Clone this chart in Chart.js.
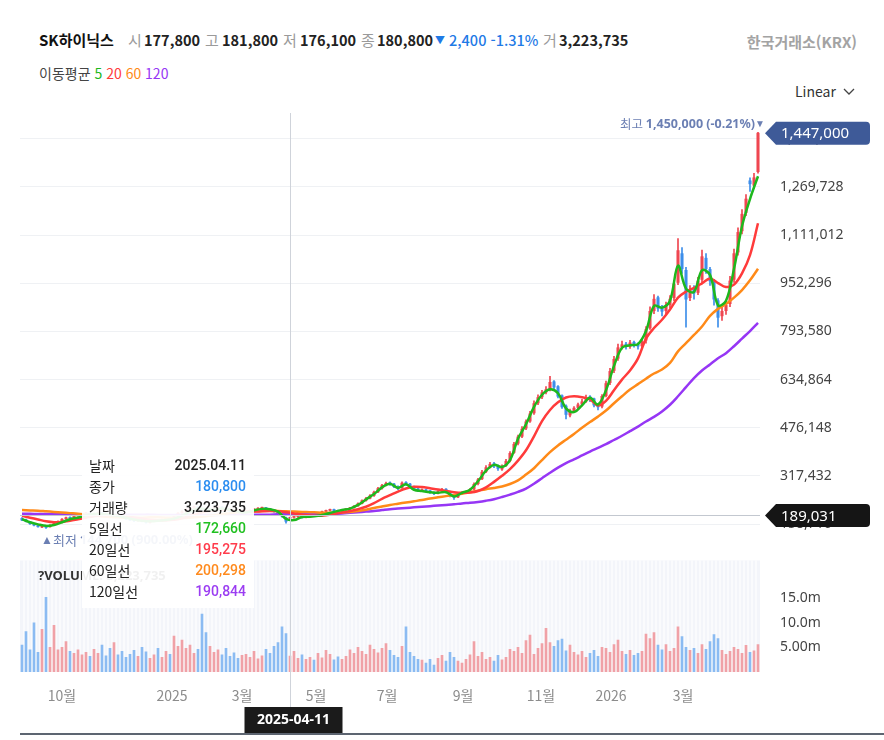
<!DOCTYPE html>
<html lang="ko">
<head>
<meta charset="utf-8">
<title>SK하이닉스</title>
<script src="https://cdn.jsdelivr.net/npm/chart.js@4.4.1/dist/chart.umd.min.js"></script>
<style>
  html, body { margin: 0; padding: 0; background: #fff; }
  body { width: 884px; height: 740px; position: relative; overflow: hidden;
         font-family: "Noto Sans CJK KR", "Noto Sans", sans-serif; color: #222; }
  .t { position: absolute; white-space: nowrap; font-size: 15px; line-height: 20px; }
  .g { color: #9a9a9a; }
  .b { font-weight: 700; color: #222; font-size: 14.5px; }
  .blue { color: #1f7ae6; }
  canvas { position: absolute; left: 0; }
  #price { top: 100px; }
  #vol { top: 552px; }
  #tip { position: absolute; left: 82px; top: 450px; width: 172px; height: 158px; z-index: 5;
         background: rgba(255,255,255,0.93); padding-top: 5px; box-sizing: border-box; }
  #tip div { display: flex; justify-content: space-between; padding: 0 8px 0 7px;
             height: 21px; line-height: 21px; font-size: 14px; color: #222; }
  #tip b { font-family: Roboto, "Noto Sans CJK KR", sans-serif; font-weight: 500; }
</style>
</head>
<body>

<div class="t b" style="left:39px;top:30px;color:#111;font-size:15px">SK하이닉스</div>
<div class="t g" style="left:128px;top:30px">시</div><div class="t b" style="left:144px;top:30px">177,800</div>
<div class="t g" style="left:205px;top:30px">고</div><div class="t b" style="left:222px;top:30px">181,800</div>
<div class="t g" style="left:283px;top:30px">저</div><div class="t b" style="left:300px;top:30px">176,100</div>
<div class="t g" style="left:361px;top:30px">종</div><div class="t b" style="left:377px;top:30px">180,800</div>
<div class="t blue" style="left:435px;top:30px;font-size:10px">▼</div>
<div class="t blue" style="left:449px;top:30px;font-weight:500;font-size:14.5px">2,400 -1.31%</div>
<div class="t g" style="left:543px;top:30px">거</div><div class="t b" style="left:559px;top:30px">3,223,735</div>
<div class="t" style="right:27px;top:32px;color:#a3a3a3;font-weight:700;font-size:15px">한국거래소(KRX)</div>

<div class="t" style="left:39px;top:63px;font-size:14px;color:#444">이동평균
  <span style="color:#1db81d">5</span> <span style="color:#ff3b3b">20</span>
  <span style="color:#ff8a18">60</span> <span style="color:#9636f5">120</span></div>

<div class="t" style="left:795px;top:81px;font-size:14px;color:#333">Linear</div>
<svg style="position:absolute;left:843px;top:88px" width="12" height="8"><polyline points="1,1 6,6 11,1" fill="none" stroke="#444" stroke-width="1.3"/></svg>

<canvas id="price" width="884" height="460"></canvas>
<canvas id="vol" width="884" height="188"></canvas>

<div id="tip">
  <div><span>날짜</span><b>2025.04.11</b></div>
  <div><span>종가</span><b style="color:#2b8df0">180,800</b></div>
  <div><span>거래량</span><b>3,223,735</b></div>
  <div><span>5일선</span><b style="color:#20c020">172,660</b></div>
  <div><span>20일선</span><b style="color:#ff3b4b">195,275</b></div>
  <div><span>60일선</span><b style="color:#ff8a1d">200,298</b></div>
  <div><span>120일선</span><b style="color:#9b3df2">190,844</b></div>
</div>

<script>
// prices in thousand won, one candle per ~2 trading days (Aug 2024 .. 2026)
const opens = [
  178,173,167,158,154,149,153,150,156,163,170,176,181,179,186,
  189,193,196,190,194,197,191,189,184,190,186,181,177,
  173,170,174,169,164,168,173,170,175,179,
  176,186,196,201,207,213,216,211,206,
  202,209,213,216,211,206,201,197,194,
  198,201,205,208,211,213,210,206,201,193,180,
  177.8,
  181,183,186,181,187,191,
  189,196,201,204,207,204,201,
  206,209,213,219,227,237,244,253,265,278,288,
  295,291,283,278,296,291,282,275,269,
  272,269,264,260,267,274,266,253,248,259,
  263,265,274,292,308,332,347,358,351,340,352,368,395,425,448,475,498,525,558,578,
  594,604,628,612,582,548,518,532,543,554,564,578,572,553,547,
  582,625,665,705,742,752,745,758,752,746,
  765,805,862,905,872,862,882,905,955,1050,995,905,935,922,965,1035,998,955,895,845,862,885,965,1055,1125,1185,1290,1275,1320
];
const highs = [
  180,175,168,160,156,154,155,157,164,170,177,182,183,187,190,
  194,198,197,195,199,198,193,190,192,191,187,182,178,
  175,176,175,170,170,174,174,176,180,180,
  187,197,203,210,215,218,217,212,208,
  210,215,218,217,212,207,202,198,200,
  202,206,210,213,215,214,211,207,202,194,182,
  181.8,
  184,187,186,188,192,192,
  197,202,205,208,208,205,207,
  210,214,220,229,239,247,256,268,280,290,297,
  298,293,285,298,299,293,284,278,275,
  274,270,265,269,277,276,268,255,261,266,
  268,276,295,310,336,352,362,362,354,354,372,398,428,452,480,502,530,565,585,600,
  612,646,632,615,585,552,538,546,558,570,584,582,574,556,586,
  630,672,712,752,762,758,764,762,756,768,
  810,875,915,910,880,890,912,962,1100,1070,1005,945,945,972,1062,1050,1005,965,902,875,895,975,1065,1135,1195,1245,1300,1315,1450
];
const lows = [
  170,166,158,153,149,147,144.7,149,154,161,168,174,176,178,184,
  187,190,188,188,192,188,185,182,182,184,178,174,170,
  167,168,166,162,162,166,168,168,173,172,
  175,184,194,199,205,210,208,203,199,
  200,206,210,208,203,198,194,191,192,
  196,199,203,206,208,207,203,198,190,182,162,
  176.1,
  178,181,178,179,185,186,
  187,194,199,202,201,198,199,
  204,207,211,217,225,234,242,250,262,274,285,
  286,279,272,276,287,279,271,266,266,
  265,260,256,258,264,265,248,240,246,256,
  259,262,272,288,305,328,344,345,336,336,349,364,392,420,444,470,494,520,552,572,
  588,598,602,575,540,505,512,526,538,548,560,562,545,535,542,
  578,618,658,698,735,735,738,742,735,740,
  755,800,852,860,845,852,872,895,948,985,808,895,900,915,955,985,945,880,808,830,850,875,955,1045,1115,1175,1255,1265,1315
];
const closes = [
  172,168,160,155,150,152,148,155,162,168,175,180,178,185,188,
  192,195,190,193,196,190,188,185,190,186,180,176,172,
  170,174,168,165,168,172,170,174,178,175,
  185,195,200,208,212,215,210,205,202,
  208,212,215,210,205,200,196,194,198,
  200,204,208,210,212,209,205,200,192,185,168,
  180.8,
  182,185,180,186,190,188,
  195,200,203,206,203,200,205,
  208,212,218,226,236,243,252,264,276,286,293,
  290,282,276,294,290,281,274,270,271,
  268,263,260,266,273,268,252,247,258,262,
  264,272,290,305,330,345,356,350,342,350,366,392,422,446,472,496,522,556,576,592,
  602,626,610,580,545,520,530,541,552,562,576,570,551,545,580,
  622,662,702,740,750,744,756,750,745,760,
  800,860,900,870,860,880,900,950,1060,1000,900,930,920,960,1040,1000,960,900,840,860,880,960,1050,1120,1180,1230,1280,1300,1447
];
// volume in millions of shares
const volumes = [
  5.5,8.2,4.5,10.0,4.0,8.7,15.2,5.0,9.5,4.5,5.0,6.2,4.2,3.8,4.5,
  3.5,4.0,3.2,4.6,3.8,5.5,3.3,4.8,6.0,3.5,4.2,3.0,3.6,
  4.4,3.2,5.0,4.1,2.8,3.5,4.8,3.0,4.2,3.6,
  7.3,5.2,6.5,4.8,5.5,3.8,4.6,11.8,8.0,
  5.2,4.0,4.5,3.5,4.8,3.2,3.9,2.8,3.4,
  3.6,3.0,4.2,2.7,3.3,4.6,3.8,5.2,6.0,9.2,7.8,
  3.22,
  4.2,2.8,3.5,2.6,3.0,2.4,
  3.8,2.9,4.4,3.6,2.5,3.1,2.6,
  3.2,4.5,3.8,5.0,4.2,3.6,5.5,4.6,3.9,4.8,5.8,
  4.4,3.4,3.0,5.2,9.2,4.0,3.2,2.6,2.4,
  1.8,2.6,1.4,2.8,3.4,2.2,4.0,3.0,2.2,1.8,
  2.6,3.5,6.2,3.2,4.0,2.6,3.0,2.2,3.4,2.5,3.0,4.6,4.2,5.0,3.8,6.4,7.5,3.6,4.8,5.8,
  8.9,6.0,5.2,6.4,6.7,4.3,5.5,4.0,3.5,4.2,3.0,3.8,4.4,3.2,5.0,
  4.8,4.0,5.6,6.5,4.2,3.6,4.4,3.4,3.8,4.2,
  7.7,6.8,8.0,5.5,4.5,5.6,4.2,4.8,9.2,7.2,5.0,4.4,4.8,3.8,5.6,4.6,6.2,7.6,6.8,4.4,3.6,4.2,5.0,4.6,3.8,5.4,4.0,4.3,5.6
];

// moving averages, read every 2nd candle (thousand won)
const maStep = 2;
const ma5 = [
  175,165,158,153,156,165,175,180,188,192,
  192,189,186,180,174,170,168,170,172,177,
  187,200,210,208,206,210,206,200,197,204,
  209,208,200,176,172,182,183,186,192,199,
  205,210,222,240,258,280,292,278,290,272,
  268,264,262,264,250,262,272,300,335,354,
  347,370,440,488,545,585,603,590,540,528,
  550,575,553,600,680,740,748,752,795,878,
  872,895,1010,935,924,995,980,880,895,1000,
  1140,1230,1305
];
const ma20 = [
  186,180,174,168,165,166,170,175,180,185,
  188,189,188,185,181,177,173,171,171,173,
  178,186,194,200,204,206,206,204,201,200,
  201,202,201,198,194,190,187,186,188,192,
  197,202,208,216,228,242,254,266,276,282,
  281,277,273,268,264,262,263,268,280,298,
  318,340,368,402,448,498,535,560,576,580,
  577,570,550,565,600,635,665,705,770,805,
  832,866,905,925,937,952,968,953,940,948,
  985,1045,1150
];
const ma60 = [
  205,204,203,201,199,197,195,193,190,187,
  184,182,181,180,180,180,181,181,180,179,
  179,180,182,185,188,192,195,198,200,201,
  202,203,202,201,200,199,198,197,196,196,
  197,199,202,206,212,217,222,226,230,234,
  238,243,247,251,255,259,264,269,274,278,
  283,291,303,322,343,370,396,418,437,456,
  476,495,513,533,557,580,602,620,638,655,
  668,690,728,755,782,810,845,868,884,905,
  930,962,1000
];
const ma120 = [
  193,193,192,192,192,191,191,191,191,190,
  190,190,190,190,190,190,190,189,189,189,
  189,189,189,189,189,189,190,190,190,190,
  190,190,191,191,191,191,191,191,192,193,
  194,196,198,200,202,205,208,210,212,214,
  216,218,220,222,224,227,229,232,236,241,
  248,256,265,276,292,310,328,345,360,372,
  385,398,410,422,436,450,465,480,497,512,
  530,552,580,610,640,665,685,705,722,745,
  770,795,822
];

const priceTicks = [158716, 317432, 476148, 634864, 793580, 952296, 1111012, 1269728, 1428444];
const volTicks = [5e6, 10e6, 15e6];
const volTickLabels = ['5.00m', '10.0m', '15.0m'];
const monthPos = [10, 37.5, 55, 73.5, 91.25, 110.25, 129.75, 147.25, 165.25];
const monthLabels = ['10월', '2025', '3월', '5월', '7월', '9월', '11월', '2026', '3월'];

const crossIndex = 67, crossPrice = 189031, crossDate = '2025-04-11';
const highNote = { idx: 184, price: 1450000, text: '1,450,000 (-0.21%)' };
const lowNote = { idx: 6, price: 144700, text: '144,700 (900.00%)' };
const volumeNote = '?VOLUME: 3,223,735';

const K = 1000;
const UP = '#ef4650', DOWN = '#3d8eea';
const UP_V = 'rgba(238,110,116,0.62)', DOWN_V = 'rgba(74,152,238,0.62)';
const NOTE = '#6b7fb3';
const last = closes.length - 1;
const xMin = -0.5, xMax = last + 0.5;

const isUp = i => closes[i] >= opens[i];

function maLine(arr, color, order) {
  return {
    type: 'line',
    data: arr.map((v, j) => ({ x: j * maStep, y: v * K })),
    borderColor: color, borderWidth: 2.5, pointRadius: 0, tension: 0.35,
    borderJoinStyle: 'round', order
  };
}

function badge(ctx, tipX, yc, text, color) {
  const h = 23, x0 = tipX + 11, x1 = 870, r = 4;
  ctx.fillStyle = color;
  ctx.beginPath();
  ctx.moveTo(tipX, yc);
  ctx.lineTo(x0, yc - h / 2);
  ctx.lineTo(x1 - r, yc - h / 2);
  ctx.arcTo(x1, yc - h / 2, x1, yc - h / 2 + r, r);
  ctx.lineTo(x1, yc + h / 2 - r);
  ctx.arcTo(x1, yc + h / 2, x1 - r, yc + h / 2, r);
  ctx.lineTo(x0, yc + h / 2);
  ctx.closePath();
  ctx.fill();
  ctx.fillStyle = '#fff';
  ctx.font = '15px "Noto Sans", sans-serif';
  ctx.textAlign = 'left';
  ctx.textBaseline = 'middle';
  ctx.fillText(text, 781, yc + 1);
}

const priceOverlay = {
  id: 'priceOverlay',
  afterDraw(chart) {
    const { ctx, chartArea: a, scales: { x, y } } = chart;
    const cx = Math.round(x.getPixelForValue(crossIndex)) + 0.5;
    const cy = Math.round(y.getPixelForValue(crossPrice)) + 0.5;
    ctx.save();
    ctx.strokeStyle = '#cfd3da';
    ctx.lineWidth = 1;
    ctx.beginPath(); ctx.moveTo(cx, a.top); ctx.lineTo(cx, chart.height); ctx.stroke();
    ctx.strokeStyle = '#c3c8d0';
    ctx.beginPath(); ctx.moveTo(a.left, cy); ctx.lineTo(a.right, cy); ctx.stroke();

    badge(ctx, a.right + 5, y.getPixelForValue(closes[last] * K), (closes[last] * K).toLocaleString('en-US'), '#3e5a98');
    badge(ctx, a.right + 5, cy, crossPrice.toLocaleString('en-US'), '#151515');

    // highest price note
    ctx.fillStyle = NOTE;
    ctx.textBaseline = 'middle';
    const hx = x.getPixelForValue(highNote.idx), hy = y.getPixelForValue(highNote.price) - 8;
    ctx.font = '10px "Noto Sans", sans-serif';
    ctx.textAlign = 'center';
    ctx.fillText('▼', hx + 2, hy);
    ctx.font = 'bold 12.5px "Noto Sans", sans-serif';
    ctx.textAlign = 'right';
    ctx.fillText(highNote.text, hx - 3, hy);
    const w = ctx.measureText(highNote.text).width;
    ctx.font = '12.5px "Noto Sans CJK KR", sans-serif';
    ctx.fillText('최고 ', hx - 3 - w, hy);

    // lowest price note
    const lx = x.getPixelForValue(lowNote.idx), ly = y.getPixelForValue(lowNote.price) + 12;
    ctx.font = '12px "Noto Sans", sans-serif';
    ctx.textAlign = 'center';
    ctx.fillText('▲', lx + 1, ly);
    ctx.textAlign = 'left';
    ctx.font = '13px "Noto Sans CJK KR", sans-serif';
    ctx.fillText('최저', lx + 7, ly);
    const w2 = ctx.measureText('최저 ').width;
    ctx.font = 'bold 13px "Noto Sans", sans-serif';
    ctx.fillText(lowNote.text, lx + 7 + w2, ly);
    ctx.restore();
  }
};

const volOverlay = {
  id: 'volOverlay',
  beforeDatasetsDraw(chart) {
    const { ctx, chartArea: a, scales: { x } } = chart;
    ctx.save();
    ctx.fillStyle = '#f3f5fa';
    ctx.fillRect(a.left, a.top, a.right - a.left, a.bottom - a.top);
    ctx.strokeStyle = '#ffffff';
    ctx.lineWidth = 1.2;
    for (let i = 0; i < last; i++) {
      const px = x.getPixelForValue(i + 0.5);
      ctx.beginPath(); ctx.moveTo(px, a.top); ctx.lineTo(px, a.bottom); ctx.stroke();
    }
    ctx.restore();
  },
  afterDraw(chart) {
    const { ctx, chartArea: a, scales: { x } } = chart;
    const cx = Math.round(x.getPixelForValue(crossIndex)) + 0.5;
    const base = a.bottom;           // page y 672
    ctx.save();
    ctx.fillStyle = '#333';
    ctx.font = 'bold 13px "Noto Sans", sans-serif';
    ctx.textBaseline = 'middle';
    ctx.textAlign = 'left';
    ctx.fillText(volumeNote, 38, a.top + 16);

    ctx.strokeStyle = '#cfd3da';
    ctx.lineWidth = 1;
    ctx.beginPath(); ctx.moveTo(cx, 0); ctx.lineTo(cx, base + 35); ctx.stroke();

    ctx.strokeStyle = '#5d6571';
    ctx.lineWidth = 2;
    ctx.beginPath(); ctx.moveTo(20, base + 62); ctx.lineTo(884, base + 62); ctx.stroke();

    ctx.fillStyle = '#1b1b1b';
    ctx.fillRect(cx + 3 - 49, base + 35, 98, 26);
    ctx.fillStyle = '#fff';
    ctx.font = 'bold 14px "Noto Sans", sans-serif';
    ctx.textAlign = 'center';
    ctx.fillText(crossDate, cx + 3, base + 48.5);
    ctx.restore();
  }
};

const candleColor = c => isUp(c.dataIndex) ? UP : DOWN;

new Chart(document.getElementById('price'), {
  type: 'bar',
  data: {
    datasets: [
      maLine(ma5, '#1db81d', 0),
      maLine(ma20, '#ff3b3b', 1),
      maLine(ma60, '#ff8a18', 2),
      maLine(ma120, '#9636f5', 3),
      {
        data: closes.map((c, i) => ({ x: i, y: [opens[i] * K, c * K] })),
        backgroundColor: candleColor, barThickness: 2.4, grouped: false, minBarLength: 1, order: 4
      },
      {
        data: lows.map((l, i) => ({ x: i, y: [l * K, highs[i] * K] })),
        backgroundColor: candleColor, barThickness: 1, grouped: false, order: 5
      }
    ]
  },
  options: {
    responsive: false, animation: false, events: [],
    layout: { padding: { left: 20, top: 13, bottom: 9, right: 0 } },
    plugins: { legend: { display: false }, tooltip: { enabled: false } },
    scales: {
      x: { type: 'linear', display: false, min: xMin, max: xMax, offset: false },
      y: {
        position: 'right', min: 70200, max: 1513400, bounds: 'data', beginAtZero: false,
        grid: { color: '#eff1f4', drawTicks: true, tickLength: 20, tickColor: 'rgba(0,0,0,0)' },
        border: { display: false },
        afterBuildTicks: a => { a.ticks = priceTicks.map(v => ({ value: v })); },
        afterFit: a => { a.width = 124; },
        ticks: {
          padding: 0, color: '#444', font: { size: 14, family: '"Noto Sans", sans-serif' },
          callback: v => v.toLocaleString('en-US')
        }
      }
    }
  },
  plugins: [priceOverlay]
});

new Chart(document.getElementById('vol'), {
  type: 'bar',
  data: {
    datasets: [{
      data: volumes.map((v, i) => ({ x: i, y: v * 1e6 })),
      backgroundColor: c => isUp(c.dataIndex) ? UP_V : DOWN_V,
      barThickness: 2, grouped: false
    }]
  },
  options: {
    responsive: false, animation: false, events: [],
    layout: { padding: { left: 20, top: 8, bottom: 0, right: 0 } },
    plugins: { legend: { display: false }, tooltip: { enabled: false } },
    scales: {
      x: {
        type: 'linear', min: xMin, max: xMax, offset: false,
        grid: { display: false }, border: { display: false },
        afterBuildTicks: a => { a.ticks = monthPos.map(v => ({ value: v })); },
        afterFit: a => { a.height = 68; },
        ticks: {
          autoSkip: false, maxRotation: 0, padding: 7, color: '#8c8c8c',
          font: { size: 14, family: '"Noto Sans CJK KR", sans-serif' },
          callback: (v, i) => monthLabels[i]
        }
      },
      y: {
        position: 'right', min: 0, max: 22.7e6, bounds: 'data',
        grid: { display: true, drawOnChartArea: false, drawTicks: true, tickLength: 20, tickColor: 'rgba(0,0,0,0)' },
        border: { display: false },
        afterBuildTicks: a => { a.ticks = volTicks.map(v => ({ value: v })); },
        afterFit: a => { a.width = 124; },
        ticks: {
          padding: 0, color: '#444', font: { size: 14, family: '"Noto Sans", sans-serif' },
          callback: (v, i) => volTickLabels[i]
        }
      }
    }
  },
  plugins: [volOverlay]
});
</script>
</body>
</html>
